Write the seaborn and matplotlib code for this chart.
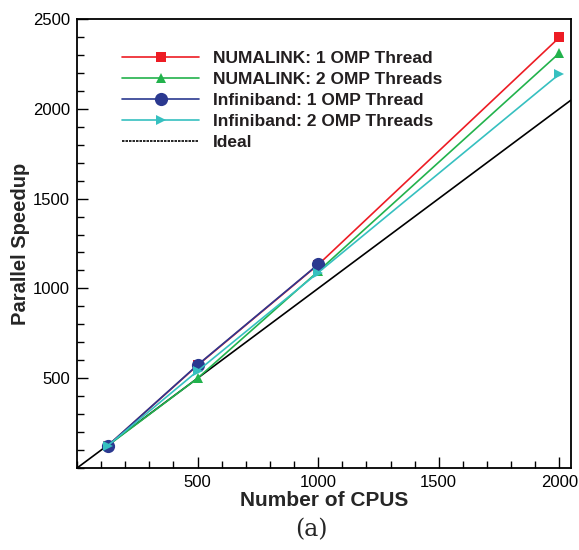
import matplotlib
matplotlib.use("Agg")
import matplotlib.pyplot as plt
from matplotlib.lines import Line2D
from matplotlib.ticker import MultipleLocator, FixedLocator
import seaborn as sns

sns.set_style("ticks")
plt.rcParams['font.family'] = ['Liberation Sans', 'DejaVu Sans']

# Data
cpus_full = [128, 500, 1000, 2000]
cpus_ib1 = [128, 500, 1000]
numalink_1 = [125, 572, 1132, 2397]
numalink_2 = [125, 500, 1095, 2310]
infiniband_1 = [125, 574, 1134]
infiniband_2 = [125, 540, 1088, 2193]
ideal_x = [0, 2048]
ideal_y = [0, 2048]

labels = ["NUMALINK: 1 OMP Thread", "NUMALINK: 2 OMP Threads",
          "Infiniband: 1 OMP Thread", "Infiniband: 2 OMP Threads", "Ideal"]
colors = ["#ED1C24", "#22B24C", "#2B3990", "#36C0C0", "#000000"]
markers = ["s", "^", "o", ">"]
msizes = [7.5, 7.5, 9.5, 7.5]

fig = plt.figure(figsize=(5.79, 5.50), dpi=100)
ax = fig.add_axes([0.133, 0.149, 0.853, 0.8165])

sns.lineplot(x=ideal_x, y=ideal_y, ax=ax, color="black", lw=1.2, zorder=1)

series = [(cpus_full, numalink_1), (cpus_full, numalink_2),
          (cpus_ib1, infiniband_1), (cpus_full, infiniband_2)]
for i, (xs, ys) in enumerate(series):
    sns.lineplot(x=xs, y=ys, ax=ax, color=colors[i], lw=1.2, marker=markers[i],
                 markersize=msizes[i], markeredgewidth=0, zorder=2 + i)

ax.set_xlim(0, 2048)
ax.set_ylim(0, 2500)
ax.xaxis.set_major_locator(FixedLocator([500, 1000, 1500, 2000]))
ax.yaxis.set_major_locator(FixedLocator([500, 1000, 1500, 2000, 2500]))
ax.xaxis.set_minor_locator(MultipleLocator(100))
ax.yaxis.set_minor_locator(MultipleLocator(100))
ax.tick_params(which="both", direction="in", top=False, right=False, labelsize=12, colors="black")
ax.tick_params(which="major", length=8, width=1.0, pad=5)
ax.tick_params(which="minor", length=5, width=1.0)
for sp in ax.spines.values():
    sp.set_visible(True)
    sp.set_linewidth(1.3)
    sp.set_color("black")

ax.set_xlabel("Number of CPUS", fontsize=15, fontweight="bold", labelpad=1)
ax.set_ylabel("Parallel Speedup", fontsize=14.5, fontweight="bold", labelpad=2)

handles = []
for i in range(4):
    handles.append(Line2D([], [], color=colors[i], lw=1.2, marker=markers[i],
                          markersize=msizes[i], markeredgewidth=0))
handles.append(Line2D([], [], color="black", lw=1.2, linestyle=(0, (1.5, 0.6))))
leg = ax.legend(handles, labels, loc="upper left", bbox_to_anchor=(0.078, 0.944),
                frameon=False, fontsize=12.5, handlelength=4.4, handletextpad=0.8,
                labelspacing=0.33, borderaxespad=0)
for t in leg.get_texts():
    t.set_fontweight("bold")
    t.set_color("#231F20")

fig.text(0.537, 0.036, r"(a)", fontsize=17, family="DejaVu Serif", ha="center", va="center")

fig.savefig("out.png", dpi=100)
